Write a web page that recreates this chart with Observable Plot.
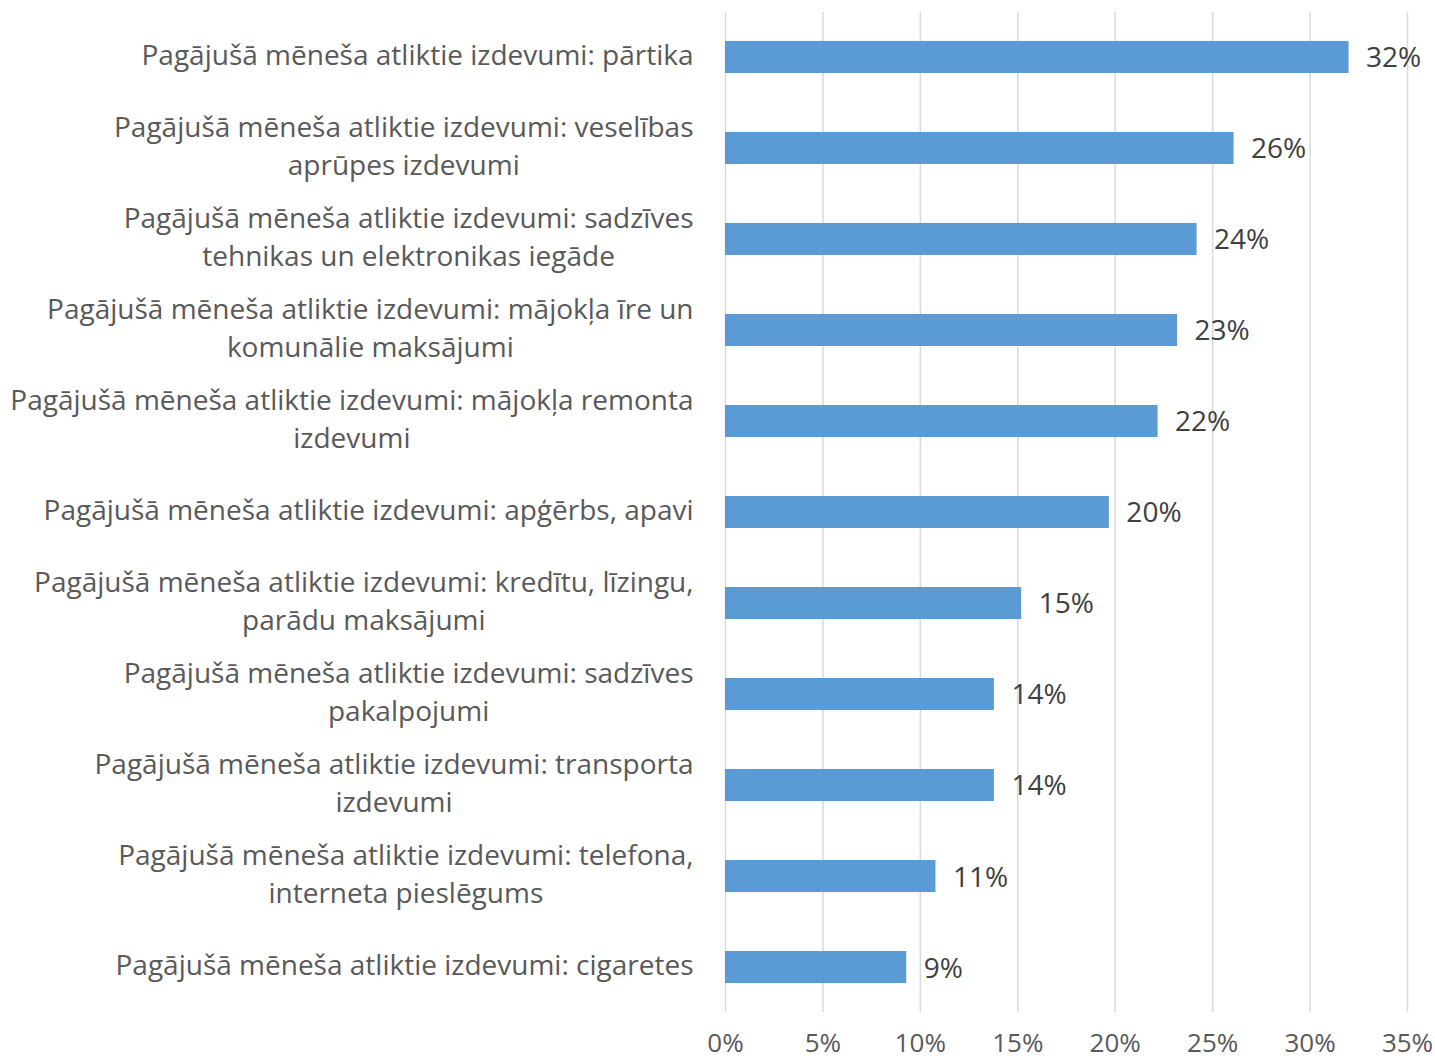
<!DOCTYPE html>
<html><head><meta charset="utf-8">
<script src="https://cdn.jsdelivr.net/npm/d3@7"></script>
<script src="https://cdn.jsdelivr.net/npm/@observablehq/plot@0.6"></script>
<style>body{margin:0;background:#fff}</style>
</head><body><div id="chart"></div>
<script>
const categories = [
  "Pagājušā mēneša atliktie izdevumi: pārtika",
  "Pagājušā mēneša atliktie izdevumi: veselības\naprūpes izdevumi",
  "Pagājušā mēneša atliktie izdevumi: sadzīves\ntehnikas un elektronikas iegāde",
  "Pagājušā mēneša atliktie izdevumi: mājokļa īre un\nkomunālie maksājumi",
  "Pagājušā mēneša atliktie izdevumi: mājokļa remonta\nizdevumi",
  "Pagājušā mēneša atliktie izdevumi: apģērbs, apavi",
  "Pagājušā mēneša atliktie izdevumi: kredītu, līzingu,\nparādu maksājumi",
  "Pagājušā mēneša atliktie izdevumi: sadzīves\npakalpojumi",
  "Pagājušā mēneša atliktie izdevumi: transporta\nizdevumi",
  "Pagājušā mēneša atliktie izdevumi: telefona,\ninterneta pieslēgums",
  "Pagājušā mēneša atliktie izdevumi: cigaretes"
];
const values = [32.0, 26.1, 24.2, 23.2, 22.2, 19.7, 15.2, 13.8, 13.8, 10.8, 9.3];
const valueLabels = ["32%", "26%", "24%", "23%", "22%", "20%", "15%", "14%", "14%", "11%", "9%"];
const xTicks = [0, 5, 10, 15, 20, 25, 30, 35];

const data = categories.map((c, i) => ({category: c, value: values[i], label: valueLabels[i]}));

const font = "'Open Sans', Lato, sans-serif";
const chart = Plot.plot({
  width: 1435, height: 1062,
  marginLeft: 725, marginRight: 28, marginTop: 12, marginBottom: 50,
  style: {fontFamily: font, fontSize: "27px", color: "#595959", background: "#fff"},
  x: {domain: [0, 35], label: null},
  y: {domain: categories, axis: null, paddingInner: 0.648, paddingOuter: 0.318, round: false},
  marks: [
    Plot.gridX(xTicks, {stroke: "#d9d9d9", strokeOpacity: 1, strokeWidth: 1.5}),
    Plot.axisX(xTicks, {tickSize: 0, tickPadding: 21, tickFormat: d => d + "%", fontSize: 26, fill: "#595959", label: null}),
    Plot.barX(data, {y: "category", x: "value", fill: "#5b9bd5"}),
    Plot.text(data, {y: "category", x: "value", text: "label", textAnchor: "start", dx: 17, dy: 1, fill: "#404040", fontSize: 28}),
    Plot.text(data, {y: "category", x: 0, text: "category", textAnchor: "end", dx: -32, dy: -5, fill: "#595959", fontSize: 28, lineHeight: 1.36, className: "ylab"})
  ]
});
document.getElementById("chart").appendChild(chart);

// center-align the lines of wrapped category labels, keeping the block's right edge
chart.querySelectorAll(".ylab text").forEach(t => {
  const spans = t.querySelectorAll("tspan");
  if (spans.length > 1) {
    const widths = Array.from(spans, s => s.getComputedTextLength());
    const maxW = Math.max(...widths);
    t.setAttribute("text-anchor", "middle");
    spans.forEach(s => s.setAttribute("x", -maxW / 2));
  }
});
</script>
</body></html>
